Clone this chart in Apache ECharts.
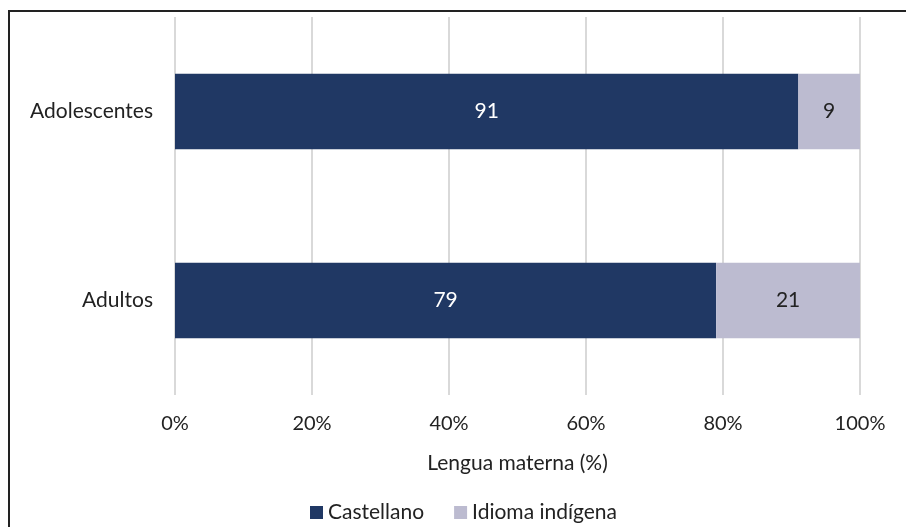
<!DOCTYPE html>
<html>
<head>
<meta charset="utf-8">
<script src="https://cdn.jsdelivr.net/npm/echarts@6/dist/echarts.min.js"></script>
<style>
html,body{margin:0;padding:0;background:#fff;}
#chart{width:906px;height:527px;}
</style>
</head>
<body>
<div id="chart"></div>
<script>
var categories = ['Adolescentes', 'Adultos'];
var castellano = [91, 79];
var indigena = [9, 21];
var seriesNames = ['Castellano', 'Idioma indígena'];
var axisTitle = 'Lengua materna (%)';

var FONT = 'Lato';
var chart = echarts.init(document.getElementById('chart'), null, {renderer: 'canvas'});
chart.setOption({
  animation: false,
  textStyle: {fontFamily: FONT},
  graphic: [{
    type: 'rect',
    shape: {x: 9, y: 11, width: 1000, height: 1000},
    style: {fill: 'none', stroke: '#222', lineWidth: 2},
    silent: true
  }],
  grid: {left: 175, right: 46, top: 17, bottom: 132},
  legend: {
    top: 502, left: 310, padding: 0,
    itemWidth: 13, itemHeight: 13, itemGap: 30,
    icon: 'rect',
    textStyle: {fontFamily: FONT, fontSize: 21, color: '#222'},
    data: seriesNames
  },
  xAxis: {
    type: 'value', min: 0, max: 100, interval: 20,
    name: axisTitle, nameLocation: 'middle', nameGap: 58,
    nameTextStyle: {fontFamily: FONT, fontSize: 21, color: '#222'},
    axisLine: {show: false}, axisTick: {show: false},
    axisLabel: {formatter: '{value}%', margin: 19, fontFamily: FONT, fontSize: 20, color: '#222'},
    splitLine: {lineStyle: {color: '#d9d9d9', width: 2}}
  },
  yAxis: {
    type: 'category', data: categories, inverse: true,
    axisLine: {show: false}, axisTick: {show: false},
    axisLabel: {margin: 22, fontFamily: FONT, fontSize: 21, color: '#222'}
  },
  series: [{
    name: seriesNames[0], type: 'bar', stack: 't', data: castellano,
    barCategoryGap: '60%',
    itemStyle: {color: '#203864'},
    label: {show: true, position: 'inside', color: '#fff', fontFamily: FONT, fontSize: 21}
  }, {
    name: seriesNames[1], type: 'bar', stack: 't', data: indigena,
    itemStyle: {color: '#bcbbd0'},
    label: {show: true, position: 'inside', color: '#222', fontFamily: FONT, fontSize: 21}
  }]
});
</script>
</body>
</html>
